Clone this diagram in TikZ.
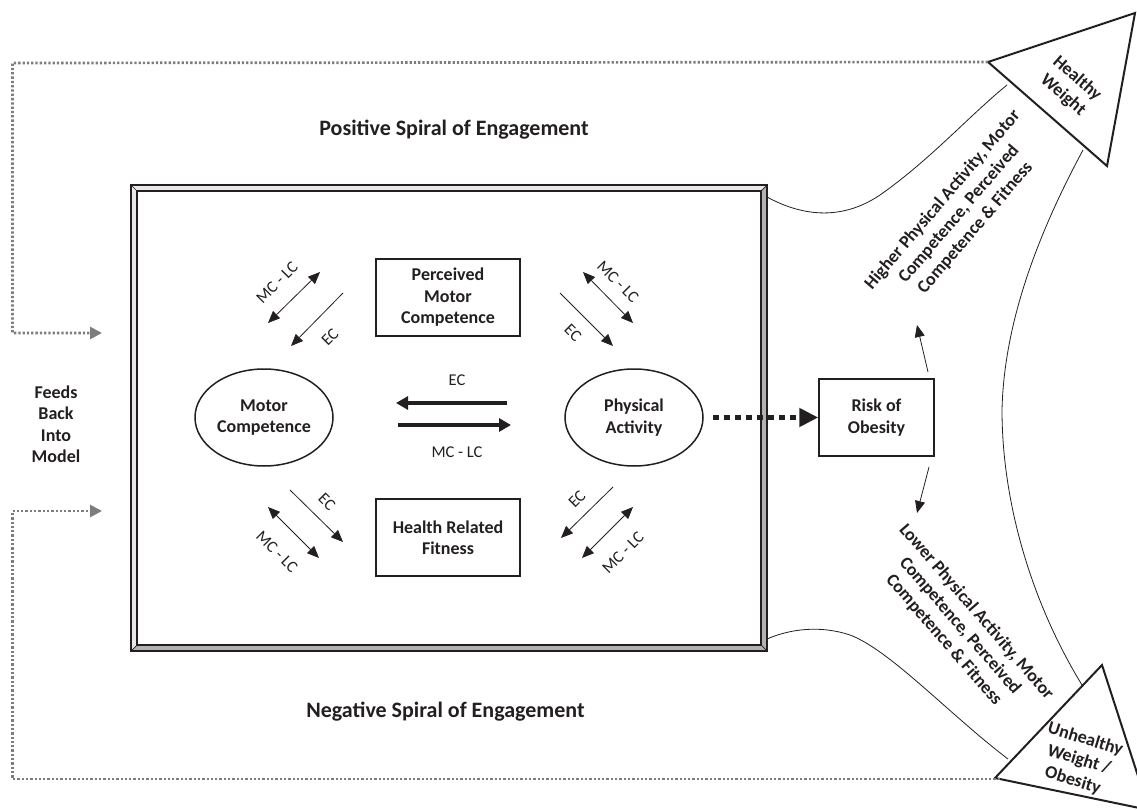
\documentclass[tikz,border=0pt]{standalone}
\usepackage{fontspec}
\setmainfont{Carlito}
\usetikzlibrary{arrows.meta,shapes.geometric}
\definecolor{fbgray}{RGB}{125,125,125}
\definecolor{ink}{RGB}{35,31,32}
\begin{document}
\begin{tikzpicture}[x=1pt,y=-1pt,
  txt/.style={font=\fontsize{18}{21.5}\selectfont\bfseries, text=ink, align=center},
  bigtxt/.style={font=\fontsize{22}{26}\selectfont\bfseries, text=ink},
  lbl/.style={font=\fontsize{16.5}{19}\selectfont, text=ink, inner sep=0pt},
  boxnode/.style={draw=ink, line width=1.5pt, minimum width=144pt, minimum height=77pt, txt, inner sep=0pt},
  ellnode/.style={draw=ink, ellipse, line width=1.5pt, minimum width=138pt, minimum height=97pt, txt, inner sep=0pt},
  thinarrow/.style={line width=0.8pt, draw=ink, -{Triangle[length=12pt,width=10pt]}},
  dblarrow/.style={line width=0.8pt, draw=ink, {Triangle[length=12pt,width=10pt]}-{Triangle[length=12pt,width=10pt]}},
  thickarrow/.style={line width=4pt, draw=ink, -{Triangle[length=12pt,width=13pt]}},
  feedback/.style={draw=fbgray, line width=2.7pt, dash pattern=on 2.3pt off 2pt},
  feedarrow/.style={feedback, -{Triangle[length=12pt,width=12pt,fill=fbgray]}},
  curve/.style={line width=0.8pt, draw=ink},
  tri/.style={draw=ink, line width=2pt, line join=miter, fill=white}
]
\useasboundingbox (0,0) rectangle (1137,810);

% ---------- frame ----------
\fill[gray!18] (131,185) -- (767,185) -- (761,191) -- (137,191) -- cycle;
\fill[gray!18] (131,185) -- (137,191) -- (137,645) -- (131,651) -- cycle;
\fill[gray!60] (767,185) -- (767,651) -- (761,645) -- (761,191) -- cycle;
\fill[gray!60] (131,651) -- (767,651) -- (761,645) -- (137,645) -- cycle;
\draw[ink, line width=1.8pt] (131,185) rectangle (767,651);
\draw[ink, line width=1.4pt] (137,191) rectangle (761,645);
\draw[ink, line width=0.7pt] (131,185) -- (137,191) (767,185) -- (761,191)
  (131,651) -- (137,645) (767,651) -- (761,645);
\coordinate (fUR) at (767,197);
\coordinate (fLR) at (767,639);

% ---------- nodes ----------
\node[boxnode] (pmc) at (448,297.5) {Perceived\\Motor\\Competence};
\node[boxnode] (hrf) at (448,537.5) {Health Related\\Fitness};
\node[ellnode] (mc) at (264,417.5) {Motor\\Competence};
\node[ellnode] (pa) at (634,417.5) {Physical\\Activity};
\node[draw=ink, line width=1.5pt, minimum width=115pt, minimum height=77pt, txt, inner sep=0pt] (risk) at (876.5,417.5) {Risk of\\Obesity};

\node[bigtxt] (pos) at (454,130) {Positive Spiral of Engagement};
\node[bigtxt] (neg) at (445.5,712) {Negative Spiral of Engagement};
\node[txt] (feeds) at (56,424) {Feeds\\Back\\Into\\Model};

% ---------- middle arrows ----------
\coordinate (ecA) at (507,403); \coordinate (ecB) at (396,403);
\coordinate (mlA) at (398,425); \coordinate (mlB) at (511,425);
\draw[thickarrow] (ecA) -- (ecB);
\draw[thickarrow] (mlA) -- (mlB);
\node[lbl] (ecmid) at (457,380) {EC};
\node[lbl] (mlmid) at (457,452) {MC - LC};

% ---------- diagonal arrows ----------
% upper left
\coordinate (ul1) at (268,323); \coordinate (ul2) at (320,272);
\coordinate (ul3) at (343,293); \coordinate (ul4) at (291,346);
\draw[dblarrow] (ul1) -- (ul2);
\draw[thinarrow] (ul3) -- (ul4);
\node[lbl, rotate=45] (ulA) at (277,283) {MC - LC};
\node[lbl, rotate=45] (ulB) at (330,337) {EC};
% upper right
\coordinate (ur1) at (583,272); \coordinate (ur2) at (633,323);
\coordinate (ur3) at (560,293); \coordinate (ur4) at (613,346);
\draw[dblarrow] (ur1) -- (ur2);
\draw[thinarrow] (ur3) -- (ur4);
\node[lbl, rotate=-45] (urA) at (618,282) {MC - LC};
\node[lbl, rotate=-45] (urB) at (573,333) {EC};
% lower left
\coordinate (ll1) at (290,490); \coordinate (ll2) at (343,542);
\coordinate (ll3) at (268,507); \coordinate (ll4) at (319,558);
\draw[thinarrow] (ll1) -- (ll2);
\draw[dblarrow] (ll3) -- (ll4);
\node[lbl, rotate=-45] (llA) at (327,502) {EC};
\node[lbl, rotate=-45] (llB) at (277,552) {MC - LC};
% lower right
\coordinate (lr1) at (613,487); \coordinate (lr2) at (561,538);
\coordinate (lr3) at (633,507); \coordinate (lr4) at (582,558);
\draw[thinarrow] (lr1) -- (lr2);
\draw[dblarrow] (lr3) -- (lr4);
\node[lbl, rotate=45] (lrA) at (577,499) {EC};
\node[lbl, rotate=45] (lrB) at (623,553) {MC - LC};

% ---------- PA to risk ----------
\coordinate (paE) at (713,417.5);
\draw[ink, line width=5pt, dash pattern=on 6pt off 5pt, -{Triangle[length=19pt,width=18pt]}] (paE) -- (risk.west);

% ---------- curves ----------
\coordinate (hwA) at (988,62); \coordinate (hwB) at (1135,13); \coordinate (hwC) at (1107,166);
\coordinate (uwA) at (995,778); \coordinate (uwB) at (1102,665); \coordinate (uwC) at (1149,810);
\coordinate (hwIn) at (1007,85);
\coordinate (hwOut) at (1083,150);
\coordinate (uwIn) at (1008,759);
\coordinate (uwOut) at (1082,685);
\draw[curve] (fUR) .. controls (800,215) and (840,222) .. (880,195) .. controls (930,160) and (970,115) .. (hwIn);
\draw[curve] (fLR) .. controls (790,629) and (820,625) .. (850,635) .. controls (890,650) and (950,715) .. (uwIn);
\draw[curve] (hwOut) .. controls (1040,230) and (1004,320) .. (1002,410) .. controls (1002,500) and (1030,600) .. (uwOut);

% ---------- triangles ----------
\draw[tri] (hwA) -- (hwB) -- (hwC) -- cycle;
\draw[tri] (uwA) -- (uwB) -- (uwC) -- cycle;
\node[txt, rotate=-41] (hw) at (1070,87) {Healthy\\Weight};
\node[txt, rotate=-17] (uw) at (1079,760) {Unhealthy\\Weight /\\Obesity};

% ---------- risk branches ----------
\coordinate (rU1) at (928,372); \coordinate (rU2) at (917,325);
\coordinate (rD1) at (929,467); \coordinate (rD2) at (917,513);
\draw[thinarrow] (rU1) -- (rU2);
\draw[thinarrow] (rD1) -- (rD2);
\node[txt, rotate=49.5] (higher) at (959,214) {Higher Physical Activity, Motor\\Competence, Perceived\\Competence \& Fitness};
\node[txt, rotate=-49] (lower) at (960,626) {Lower Physical Activity, Motor\\Competence, Perceived\\Competence \& Fitness};

% ---------- feedback lines ----------
\coordinate (fbTop) at (12.5,63); \coordinate (fbTopArr) at (102,333);
\coordinate (fbBot) at (12.5,779); \coordinate (fbBotArr) at (102,511);
\coordinate (uwLeft) at (1000,779);
\draw[feedarrow] (hwA) -- (fbTop) |- (fbTopArr);
\draw[feedarrow] (uwLeft) -- (fbBot) |- (fbBotArr);
\end{tikzpicture}
\end{document}
